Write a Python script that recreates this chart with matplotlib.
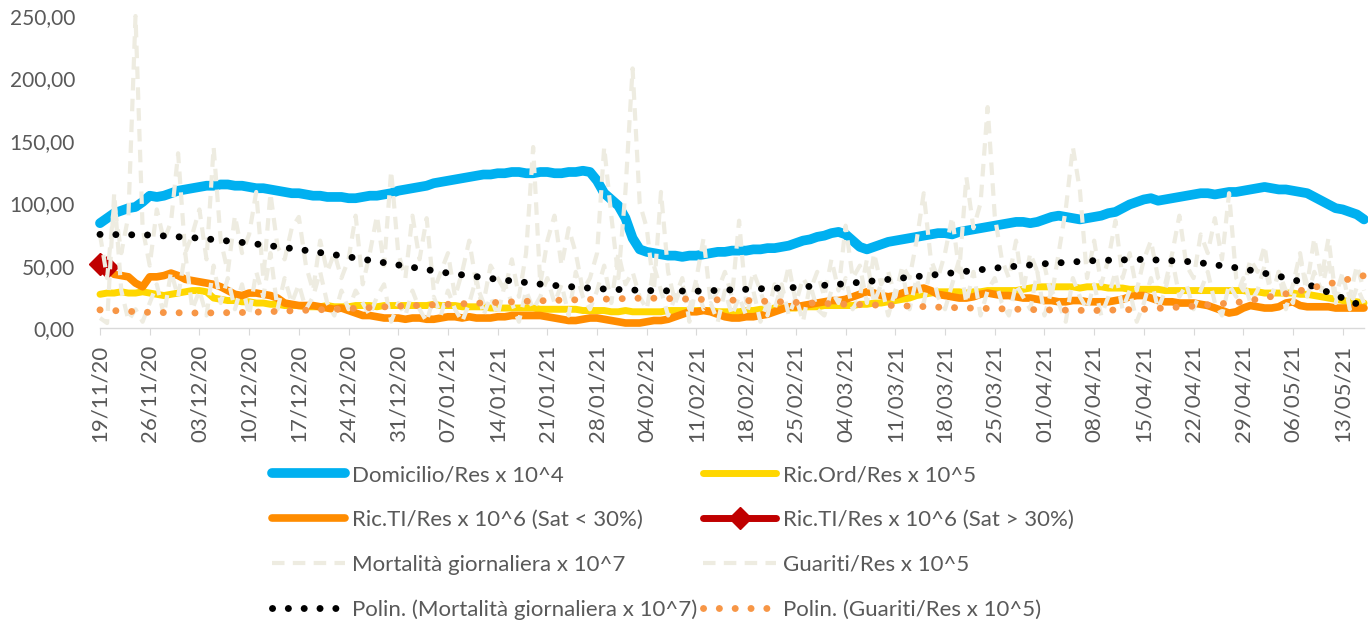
import numpy as np
import pandas as pd
import matplotlib
matplotlib.use("Agg")
import matplotlib.pyplot as plt
import matplotlib.dates as mdates
from matplotlib.ticker import FuncFormatter

plt.rcParams['font.family'] = ['Lato', 'DejaVu Sans']

start = '2020-11-19'
n_days = 179

# daily series, one value per day starting 19/11/20
domicilio = [84, 88, 92, 94, 96, 97, 101,
             106, 105, 106, 108, 110, 111, 112,
             113, 114, 114, 115, 115, 114, 114,
             113, 112, 112, 111, 110, 109, 108,
             108, 107, 106, 106, 105, 105, 105,
             104, 104, 105, 106, 106, 107, 108,
             110, 111, 112, 113, 114, 116, 117,
             118, 119, 120, 121, 122, 123, 123,
             124, 124, 125, 125, 124, 124, 125,
             125, 124, 124, 125, 125, 126, 125,
             118, 108, 103, 98, 88, 72, 63,
             61, 60, 59, 58, 58, 57, 58,
             58, 59, 60, 61, 61, 62, 62,
             62, 63, 63, 64, 64, 65, 66,
             68, 70, 71, 73, 74, 76, 77,
             75, 70, 65, 63, 65, 67, 69,
             70, 71, 72, 73, 74, 75, 76,
             76, 75, 77, 78, 79, 80, 81,
             82, 83, 84, 85, 85, 84, 85,
             87, 89, 90, 89, 88, 87, 88,
             89, 90, 92, 93, 96, 99, 101,
             103, 104, 102, 103, 104, 105, 106,
             107, 108, 108, 107, 108, 109, 109,
             110, 111, 112, 113, 112, 111, 111,
             110, 109, 108, 105, 102, 99, 96,
             95, 93, 91, 87]

ric_ord = [27, 28, 28, 29, 28, 28, 29,
           28, 27, 26, 27, 28, 29, 30,
           30, 29, 24, 23, 22, 22, 21,
           21, 20, 20, 19, 19, 18, 18,
           18, 17, 17, 17, 18, 17, 17,
           17, 18, 18, 18, 17, 18, 18,
           18, 18, 18, 18, 18, 19, 18,
           18, 18, 17, 17, 17, 17, 16,
           16, 16, 16, 16, 16, 16, 15,
           15, 15, 15, 15, 15, 14, 14,
           14, 14, 13, 13, 14, 13, 13,
           13, 13, 13, 14, 14, 14, 14,
           14, 14, 14, 13, 13, 13, 13,
           14, 14, 15, 15, 16, 16, 16,
           16, 17, 17, 17, 18, 18, 18,
           18, 18, 19, 19, 20, 20, 21,
           22, 23, 24, 26, 27, 28, 29,
           29, 29, 29, 28, 29, 29, 30,
           30, 30, 30, 30, 31, 32, 33,
           33, 33, 33, 33, 33, 32, 33,
           33, 33, 32, 32, 32, 31, 31,
           31, 31, 31, 30, 30, 30, 30,
           30, 30, 30, 30, 30, 30, 30,
           30, 29, 29, 28, 28, 28, 28,
           28, 27, 27, 26, 25, 24, 23,
           22, 21, 21, 20]

ric_ti_low = [np.nan, 48, 43, 42, 41, 36, 33,
              41, 41, 42, 44, 42, 39, 38,
              37, 36, 35, 33, 30, 27, 26,
              28, 28, 27, 26, 24, 20, 19,
              18, 18, 18, 17, 16, 15, 16,
              14, 12, 10, 10, 9, 8, 8,
              8, 7, 8, 8, 7, 7, 8,
              9, 9, 8, 9, 8, 8, 8,
              9, 9, 10, 10, 10, 10, 10,
              9, 8, 7, 6, 6, 7, 8,
              8, 7, 6, 5, 4, 4, 4,
              5, 6, 6, 7, 9, 11, 13,
              13, 14, 13, 11, 9, 8, 8,
              9, 9, 10, 11, 13, 15, 17,
              17, 18, 19, 20, 21, 22, 22,
              23, 25, 27, 29, 28, 26, 25,
              26, 28, 30, 31, 32, 30, 27,
              26, 25, 24, 24, 25, 27, 28,
              27, 26, 26, 25, 24, 24, 23,
              22, 22, 21, 21, 22, 22, 21,
              21, 21, 21, 22, 23, 25, 26,
              26, 24, 22, 21, 21, 20, 20,
              20, 19, 18, 16, 14, 12, 13,
              16, 18, 17, 16, 16, 17, 20,
              21, 18, 17, 17, 17, 17, 16,
              16, 16, 16, 16]

ric_ti_high = [51, 49] + [np.nan] * (n_days - 2)

mortalita = [75, 40, 100, 60, 90, 250, 80,
             50, 95, 70, 85, 140, 60, 75,
             95, 55, 145, 70, 45, 90, 60,
             75, 109, 40, 108, 65, 55, 80,
             89, 50, 30, 70, 45, 60, 40,
             55, 90, 35, 60, 90, 50, 126,
             60, 40, 90, 55, 88, 30, 45,
             60, 25, 45, 70, 35, 20, 50,
             40, 30, 55, 25, 60, 145, 35,
             70, 90, 50, 80, 60, 30, 40,
             60, 145, 90, 40, 110, 208, 100,
             80, 30, 109, 45, 20, 35, 15,
             40, 72, 20, 30, 45, 25, 86,
             20, 45, 30, 10, 35, 25, 50,
             20, 40, 30, 45, 25, 55, 30,
             82, 40, 50, 20, 60, 35, 45,
             25, 50, 40, 70, 108, 55, 40,
             60, 89, 45, 121, 80, 100, 177,
             90, 55, 40, 70, 30, 60, 45,
             50, 25, 60, 95, 145, 110, 40,
             70, 35, 55, 86, 40, 60, 30,
             55, 70, 40, 35, 60, 90, 50,
             40, 75, 60, 88, 55, 108, 40,
             30, 55, 45, 66, 25, 45, 30,
             20, 55, 35, 72, 40, 72, 25,
             45, 15, 33, 20]

guariti = [8, 4, 108, 30, 6, 15, 5,
           20, 35, 10, 45, 25, 60, 15,
           30, 10, 50, 20, 40, 15, 35,
           10, 45, 25, 60, 15, 40, 20,
           35, 15, 25, 45, 20, 10, 30,
           15, 30, 20, 10, 25, 35, 5,
           20, 10, 30, 15, 5, 25, 10,
           30, 15, 5, 20, 40, 10, 25,
           10, 35, 20, 5, 30, 15, 25,
           40, 20, 35, 10, 45, 25, 15,
           30, 50, 20, 60, 35, 45, 25,
           15, 50, 30, 10, 25, 40, 5,
           35, 15, 20, 5, 30, 10, 25,
           10, 30, 5, 20, 15, 35, 10,
           25, 5, 35, 15, 10, 30, 20,
           40, 15, 25, 55, 20, 35, 10,
           30, 45, 15, 40, 20, 50, 25,
           15, 35, 55, 20, 45, 10, 30,
           40, 20, 10, 35, 25, 15, 45,
           10, 30, 20, 5, 40, 25, 15,
           35, 10, 25, 45, 15, 30, 5,
           20, 40, 15, 30, 55, 25, 35,
           15, 30, 45, 20, 10, 35, 25,
           40, 20, 30, 50, 25, 45, 15,
           35, 60, 25, 45, 30, 55, 20,
           40, 25, 50, 30]

# polynomial trendlines
trend_mort_day = [0, 7, 14, 21, 28, 35, 42, 49, 56, 63, 70, 77, 84, 91, 98,
                  105, 112, 119, 126, 133, 140, 147, 154, 161, 168, 171, 175, 178]
trend_mort = [75, 74.5, 72, 68, 63, 57, 50.5, 44, 39, 34.5, 31.5, 30, 29.5, 31, 32.5,
              35.5, 39.5, 43.5, 48, 51.5, 54, 55, 53, 47.5, 39, 33, 24, 17]
trend_guar_day = [0, 7, 14, 21, 28, 35, 42, 49, 56, 63, 70, 77, 84, 91, 98,
                  105, 112, 119, 126, 133, 140, 147, 154, 161, 168, 175, 178]
trend_guar = [14.5, 12.5, 12, 12.5, 14, 15.5, 17.5, 19, 20.5, 22, 23, 24, 23, 22, 20.5,
              19, 18, 16.5, 15.5, 14.5, 14, 15, 17.5, 21, 28.5, 38, 42]

dates = pd.date_range(start, periods=n_days)
t0 = pd.Timestamp(start)
tm_dates = [t0 + pd.Timedelta(days=d) for d in trend_mort_day]
tg_dates = [t0 + pd.Timedelta(days=d) for d in trend_guar_day]

grey = '#595959'
beige = '#EEECE1'

fig = plt.figure(figsize=(13.68, 6.23), dpi=100)
ax = fig.add_axes([100 / 1368, 295 / 623, 1264 / 1368, 312 / 623])

l_dom, = ax.plot(dates, domicilio, color='#00B0F0', lw=7, solid_capstyle='round',
                 solid_joinstyle='round', clip_on=False, label='Domicilio/Res x 10^4')
l_ord, = ax.plot(dates, ric_ord, color='#FFD700', lw=5, solid_capstyle='round',
                 solid_joinstyle='round', clip_on=False, label='Ric.Ord/Res x 10^5')
l_low, = ax.plot(dates, ric_ti_low, color='#FF8C00', lw=5.5, solid_capstyle='round',
                 solid_joinstyle='round', clip_on=False, label='Ric.TI/Res x 10^6 (Sat < 30%)')
l_high, = ax.plot(dates, ric_ti_high, color='#C00000', lw=5, marker='D', ms=11,
                  solid_capstyle='round', clip_on=False, label='Ric.TI/Res x 10^6 (Sat > 30%)')
l_mort, = ax.plot(dates, mortalita, color=beige, lw=3, ls=(0, (3, 2)),
                  clip_on=False, label='Mortalità giornaliera x 10^7')
l_guar, = ax.plot(dates, guariti, color=beige, lw=3, ls=(0, (3, 2)),
                  clip_on=False, label='Guariti/Res x 10^5')
l_tm, = ax.plot(tm_dates, trend_mort, color='black', lw=5, ls=(0, (0.01, 2.27)),
                dash_capstyle='round', clip_on=False,
                label='Polin. (Mortalità giornaliera x 10^7)')
l_tg, = ax.plot(tg_dates, trend_guar, color='#F79646', lw=5, ls=(0, (0.01, 2.27)),
                dash_capstyle='round', clip_on=False,
                label='Polin. (Guariti/Res x 10^5)')

ax.set_xlim(dates[0], dates[-1])
ax.set_ylim(0, 250)
ax.set_yticks(np.arange(0, 251, 50))
ax.yaxis.set_major_formatter(FuncFormatter(lambda v, p: f'{v:.2f}'.replace('.', ',')))
ax.set_xticks(dates[::7])
ax.xaxis.set_major_formatter(mdates.DateFormatter('%d/%m/%y'))

for s in ['top', 'right', 'left']:
    ax.spines[s].set_visible(False)
ax.spines['bottom'].set_color('#D9D9D9')
ax.spines['bottom'].set_linewidth(1)
ax.tick_params(axis='x', length=5, color='#D9D9D9', labelcolor=grey,
               labelsize=16, labelrotation=90, pad=7)
ax.tick_params(axis='y', length=0, labelcolor=grey, labelsize=15, pad=18)

leg_kw = dict(frameon=False, fontsize=16, handlelength=3.3, handletextpad=0.3,
              labelspacing=1.12, borderpad=0, borderaxespad=0, loc='upper left',
              labelcolor=grey)
fig.legend(handles=[l_dom, l_low, l_mort, l_tm],
           bbox_to_anchor=(272 / 1368, 1 - 465 / 623), **leg_kw)
fig.legend(handles=[l_ord, l_high, l_guar, l_tg],
           bbox_to_anchor=(703 / 1368, 1 - 465 / 623), **leg_kw)

fig.savefig('out.png', dpi=100)
